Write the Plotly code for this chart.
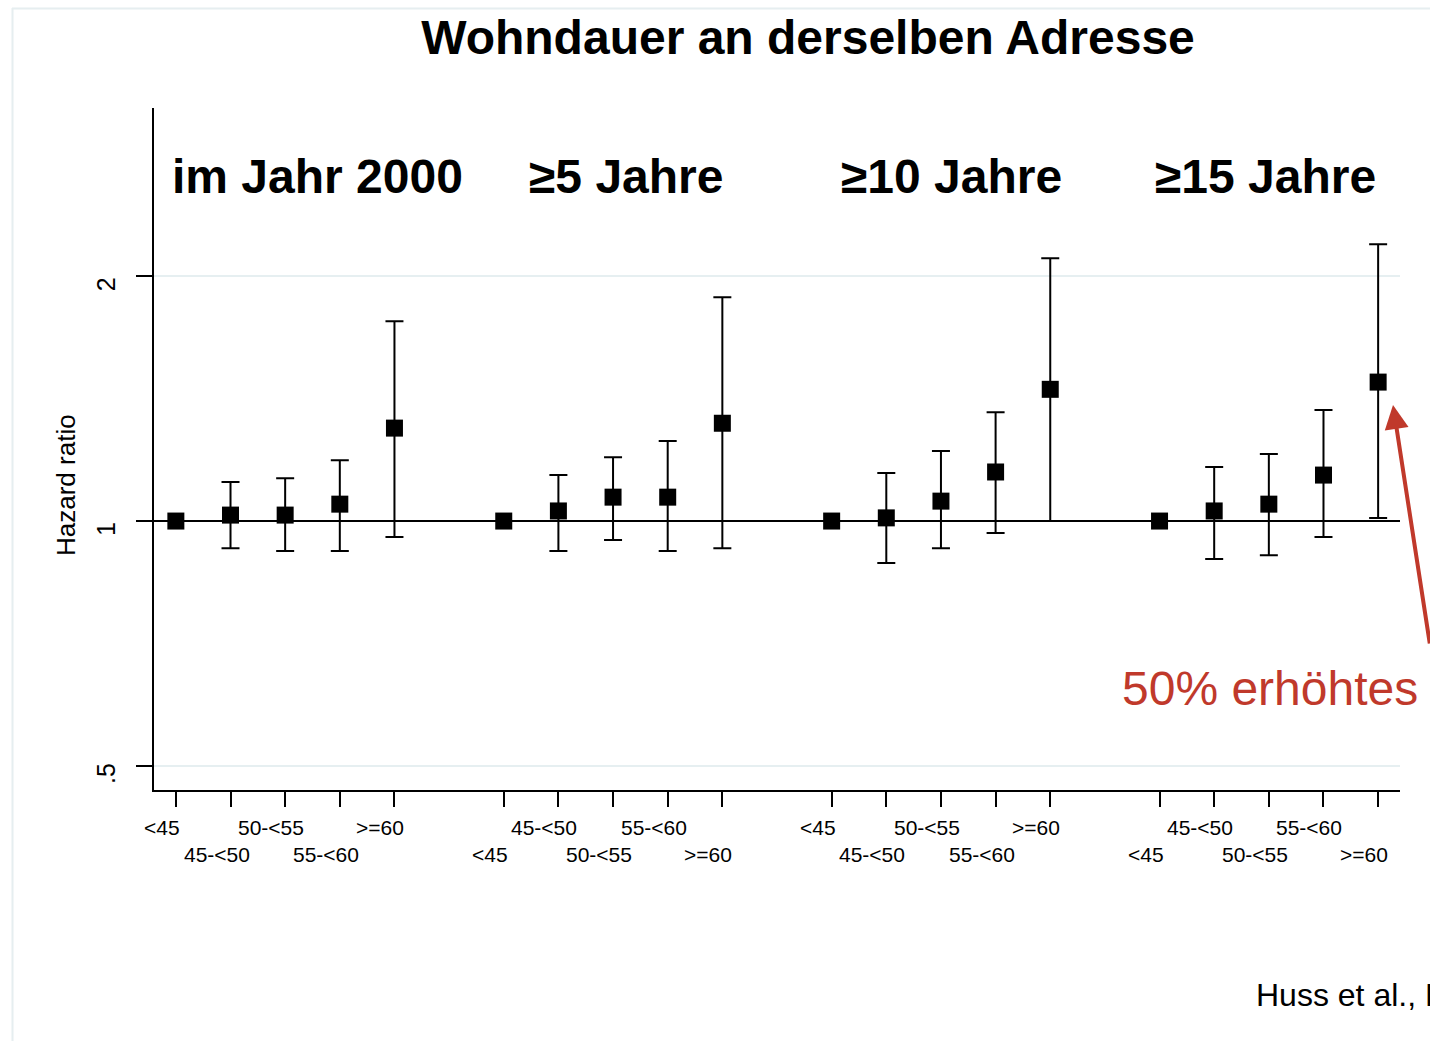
import math
import plotly.graph_objects as go

# --- data -----------------------------------------------------------------
age_groups = ["<45", "45-<50", "50-<55", "55-<60", ">=60"]
period_labels = ["im Jahr 2000", "\u22655 Jahre", "\u226510 Jahre", "\u226515 Jahre"]

# hazard ratios per residence-duration period (reference group <45 = 1)
hr_2000 = [1.00, 1.017, 1.017, 1.049, 1.301]
lo_2000 = [1.00, 0.926, 0.919, 0.919, 0.956]
hi_2000 = [1.00, 1.117, 1.129, 1.188, 1.761]

hr_5y = [1.00, 1.029, 1.070, 1.070, 1.319]
lo_5y = [1.00, 0.919, 0.948, 0.919, 0.926]
hi_5y = [1.00, 1.139, 1.198, 1.254, 1.884]

hr_10y = [1.00, 1.009, 1.058, 1.149, 1.452]
lo_10y = [1.00, 0.888, 0.926, 0.967, 1.000]
hi_10y = [1.00, 1.146, 1.219, 1.361, 2.104]

hr_15y = [1.00, 1.029, 1.049, 1.139, 1.482]
lo_15y = [1.00, 0.898, 0.908, 0.956, 1.009]
hi_15y = [1.00, 1.165, 1.209, 1.369, 2.189]

y_tick_vals = [0.5, 1, 2]
y_tick_text = [".5", "1", "2"]

# --- geometry / style -----------------------------------------------------
W, H = 1430, 1041
L, R, T, B = 154, 1400, 108, 790          # plot area in px
FONT = "Liberation Sans, Arial, sans-serif"
RED = "#c0392b"
FRAME = "#e6eef0"
GRID = "#e6eff1"

Y_RANGE = [math.log10(0.467), math.log10(3.22)]


def xp(px):
    return (px - L) / (R - L)


def yp(py):
    return (B - py) / (B - T)


def y_log_paper(v):
    return (math.log10(v) - Y_RANGE[0]) / (Y_RANGE[1] - Y_RANGE[0])


hr_sets = [hr_2000, hr_5y, hr_10y, hr_15y]
lo_sets = [lo_2000, lo_5y, lo_10y, lo_15y]
hi_sets = [hi_2000, hi_5y, hi_10y, hi_15y]

# positions: five categories per period, one empty slot between periods
ref_x, ref_y = [], []
est_x, est_y, err_up, err_dn = [], [], [], []
all_x = []
for g in range(len(period_labels)):
    for i in range(len(age_groups)):
        x = 1 + 6 * g + i
        all_x.append(x)
        if i == 0:
            ref_x.append(x)
            ref_y.append(hr_sets[g][i])
        else:
            est_x.append(x)
            est_y.append(hr_sets[g][i])
            err_up.append(hi_sets[g][i] - hr_sets[g][i])
            err_dn.append(hr_sets[g][i] - lo_sets[g][i])

x_range = [0.6, 23.4]

fig = go.Figure()

# reference line at HR = 1
fig.add_trace(go.Scatter(
    x=x_range, y=[1, 1], mode="lines",
    line=dict(color="black", width=2), hoverinfo="skip", showlegend=False,
))

fig.add_trace(go.Scatter(
    x=est_x, y=est_y, mode="markers",
    marker=dict(symbol="square", size=17, color="black"),
    error_y=dict(type="data", symmetric=False, array=err_up, arrayminus=err_dn,
                 color="black", thickness=2, width=9),
    showlegend=False,
))

fig.add_trace(go.Scatter(
    x=ref_x, y=ref_y, mode="markers",
    marker=dict(symbol="square", size=17, color="black"),
    showlegend=False,
))

annotations = []

# staggered category labels below the axis
for g in range(len(period_labels)):
    for i, lab in enumerate(age_groups):
        x = 1 + 6 * g + i
        lower_row = (i % 2 == 1) if g % 2 == 0 else (i % 2 == 0)
        annotations.append(dict(
            x=x, xref="x", y=yp(855 if lower_row else 827), yref="paper",
            text=lab.replace("<", "&lt;").replace(">", "&gt;"),
            showarrow=False, xshift=-14, xanchor="center", yanchor="middle",
            font=dict(family=FONT, size=21, color="black"),
        ))

# rotated y tick labels, sitting slightly below their ticks
for v, t in zip(y_tick_vals, y_tick_text):
    annotations.append(dict(
        x=xp(106), xref="paper", y=y_log_paper(v), yref="paper", yshift=-8,
        text=t, textangle=-90, showarrow=False,
        xanchor="center", yanchor="middle",
        font=dict(family=FONT, size=25, color="black"),
    ))

# period headings
heading_x = [3.6, 9.24, 15.19, 20.93]
for hx, lab in zip(heading_x, period_labels):
    annotations.append(dict(
        x=hx, xref="x", y=yp(176), yref="paper", text="<b>%s</b>" % lab,
        showarrow=False, xanchor="center", yanchor="middle",
        font=dict(family=FONT, size=48, color="black"),
    ))

# y-axis title
annotations.append(dict(
    x=xp(66), xref="paper", y=yp(485), yref="paper", text="Hazard ratio",
    textangle=-90, showarrow=False, xanchor="center", yanchor="middle",
    font=dict(family=FONT, size=26, color="black"),
))

# highlight arrow towards the >=60 estimate of the longest period
annotations.append(dict(
    x=xp(1393), xref="paper", y=yp(405), yref="paper", text="",
    showarrow=True, arrowhead=2, arrowsize=1.2, arrowwidth=4, arrowcolor=RED,
    ax=39, ay=240, axref="pixel", ayref="pixel",
))
annotations.append(dict(
    x=xp(1270), xref="paper", y=yp(688), yref="paper", text="50% erh\u00f6htes",
    showarrow=False, xanchor="center", yanchor="middle",
    font=dict(family=FONT, size=48, color=RED),
))

# source
annotations.append(dict(
    x=xp(1254), xref="paper", y=yp(995), yref="paper",
    text="Huss et al., Epidemiology 2010",
    showarrow=False, xanchor="left", yanchor="middle",
    font=dict(family=FONT, size=32, color="black"),
))

shapes = [
    dict(type="line", xref="paper", yref="paper", x0=xp(12), x1=xp(1440),
         y0=yp(8.5), y1=yp(8.5), line=dict(color=FRAME, width=2)),
    dict(type="line", xref="paper", yref="paper", x0=xp(12.5), x1=xp(12.5),
         y0=yp(8), y1=yp(1050), line=dict(color=FRAME, width=2)),
]

fig.update_layout(
    width=W, height=H,
    margin=dict(l=L, r=W - R, t=T, b=H - B, autoexpand=False),
    paper_bgcolor="white", plot_bgcolor="white",
    font=dict(family=FONT, color="black"),
    title=dict(
        text="<b>Wohndauer an derselben Adresse</b>",
        x=808 / W, xref="container", xanchor="center",
        y=1 - 37 / H, yref="container", yanchor="middle",
        font=dict(family=FONT, size=48, color="black"),
    ),
    annotations=annotations,
    shapes=shapes,
    showlegend=False,
)

fig.update_xaxes(
    range=x_range, showgrid=False, zeroline=False,
    showline=True, linecolor="black", linewidth=1.5,
    tickmode="array", tickvals=all_x, showticklabels=False,
    ticks="outside", ticklen=15, tickwidth=1.5, tickcolor="black",
)

fig.update_yaxes(
    type="log", range=Y_RANGE,
    showline=True, linecolor="black", linewidth=1.5,
    tickmode="array", tickvals=y_tick_vals, showticklabels=False,
    ticks="outside", ticklen=16, tickwidth=1.5, tickcolor="black",
    showgrid=True, gridcolor=GRID, gridwidth=1.5, zeroline=False,
)

fig.write_html("out.html")
